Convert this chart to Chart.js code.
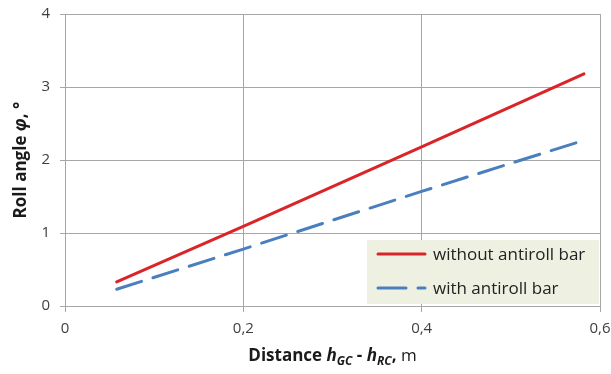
<!DOCTYPE html>
<html>
<head>
<meta charset="utf-8">
<script src="https://cdn.jsdelivr.net/npm/chart.js@4/dist/chart.umd.min.js"></script>
<style>
  html, body { margin: 0; padding: 0; background: #fff; }
  #wrap { width: 611px; height: 374px; }
</style>
</head>
<body>
<div id="wrap"><canvas id="canvas" width="611" height="374"></canvas></div>
<script>
// distance h_GC - h_RC, m
const distance = [0.058, 0.2, 0.4, 0.582];
// roll angle, degrees
const withoutBar = [0.33, 1.09, 2.18, 3.18];
const withBar = [0.23, 0.78, 1.57, 2.27];
const seriesNames = ['without antiroll bar', 'with antiroll bar'];
const xTicks = [0, 0.2, 0.4, 0.6];
const yTicks = [0, 1, 2, 3, 4];

const FONT = '"Open Sans", "DejaVu Sans", sans-serif';
const gridGray = '#a6a6a6';

function toPoints(xs, ys) {
    return xs.map((x, i) => ({ x: x, y: ys[i] }));
}

function noScalePadding(scale) {
    scale.paddingLeft = 0;
    scale.paddingRight = 0;
    scale.paddingTop = 0;
    scale.paddingBottom = 0;
}

// axis titles with italic symbols and subscripts
const titlesPlugin = {
    id: 'titles',
    afterDraw(chart) {
        const c = chart.ctx;
        const area = chart.chartArea;
        c.save();
        c.fillStyle = '#1a1a1a';
        c.textBaseline = 'alphabetic';

        // x title
        const parts = [
            { t: 'Distance ', f: 'bold 17px ' + FONT, dy: 0 },
            { t: 'h', f: 'italic bold 17px ' + FONT, dy: 0 },
            { t: 'GC', f: 'italic bold 12px ' + FONT, dy: 4 },
            { t: ' - ', f: 'bold 17px ' + FONT, dy: 0 },
            { t: 'h', f: 'italic bold 17px ' + FONT, dy: 0 },
            { t: 'RC', f: 'italic bold 12px ' + FONT, dy: 4 },
            { t: ', ', f: 'bold 17px ' + FONT, dy: 0 },
            { t: 'm', f: '17px ' + FONT, dy: 0 }
        ];
        let total = 0;
        parts.forEach(p => { c.font = p.f; p.w = c.measureText(p.t).width; total += p.w; });
        let x = (area.left + area.right) / 2 - total / 2;
        const yBase = 361;
        parts.forEach(p => {
            c.font = p.f;
            c.fillText(p.t, x, yBase + p.dy);
            x += p.w;
        });

        // y title (rotated)
        const yparts = [
            { t: 'Roll angle ', f: 'bold 17px ' + FONT },
            { t: 'φ', f: 'italic bold 17px ' + FONT },
            { t: ', °', f: 'bold 17px ' + FONT }
        ];
        let ytotal = 0;
        yparts.forEach(p => { c.font = p.f; p.w = c.measureText(p.t).width; ytotal += p.w; });
        c.translate(26, (area.top + area.bottom) / 2);
        c.rotate(-Math.PI / 2);
        let yx = -ytotal / 2;
        yparts.forEach(p => {
            c.font = p.f;
            c.fillText(p.t, yx, 0);
            yx += p.w;
        });
        c.restore();
    }
};

// boxed legend inside the plot area, lower right
const legendPlugin = {
    id: 'boxLegend',
    afterDatasetsDraw(chart) {
        const c = chart.ctx;
        const bx = 367, by = 240, bw = 232, bh = 64;
        c.save();
        c.fillStyle = '#eef1e2';
        c.fillRect(bx, by, bw, bh);
        c.font = '17px ' + FONT;
        c.textBaseline = 'middle';
        const rows = [254, 288];
        chart.data.datasets.forEach((ds, i) => {
            c.strokeStyle = ds.borderColor;
            c.lineWidth = 3;
            c.lineCap = 'round';
            c.setLineDash(ds.borderDash ? [28, 12] : []);
            c.beginPath();
            c.moveTo(378, rows[i]);
            c.lineTo(425, rows[i]);
            c.stroke();
            c.setLineDash([]);
            c.fillStyle = '#222';
            c.fillText(ds.label, 433, rows[i] + 1);
        });
        c.restore();
    }
};

const config = {
    type: 'scatter',
    data: {
        datasets: [{
            label: seriesNames[0],
            data: toPoints(distance, withoutBar),
            borderColor: '#d92428',
            borderWidth: 3,
            showLine: true,
            pointRadius: 0,
            borderCapStyle: 'round'
        }, {
            label: seriesNames[1],
            data: toPoints(distance, withBar),
            borderColor: '#4a7fbe',
            borderWidth: 3,
            borderDash: [26, 12],
            showLine: true,
            pointRadius: 0,
            borderCapStyle: 'round'
        }]
    },
    options: {
        responsive: false,
        animation: false,
        layout: { padding: { left: 0, right: 11, top: 14, bottom: 0 } },
        scales: {
            x: {
                type: 'linear',
                min: 0,
                max: 0.6,
                afterBuildTicks: (scale) => { scale.ticks = xTicks.map(v => ({ value: v })); },
                afterFit: (scale) => { scale.height = 68; noScalePadding(scale); },
                grid: { color: gridGray, lineWidth: 1, tickLength: 6 },
                border: { color: gridGray },
                ticks: {
                    color: '#404040',
                    font: { family: FONT, size: 15 },
                    padding: 8,
                    maxRotation: 0,
                    callback: (v) => v === 0 ? '0' : v.toFixed(1).replace('.', ',')
                }
            },
            y: {
                min: 0,
                max: 4,
                afterBuildTicks: (scale) => { scale.ticks = yTicks.map(v => ({ value: v })); },
                afterFit: (scale) => { scale.width = 65; noScalePadding(scale); },
                grid: { color: gridGray, lineWidth: 1, tickLength: 5 },
                border: { color: gridGray },
                ticks: {
                    color: '#404040',
                    font: { family: FONT, size: 15 },
                    padding: 10
                }
            }
        },
        plugins: {
            legend: { display: false },
            tooltip: { enabled: false }
        }
    },
    plugins: [legendPlugin, titlesPlugin]
};

new Chart(document.getElementById('canvas').getContext('2d'), config);
</script>
</body>
</html>
